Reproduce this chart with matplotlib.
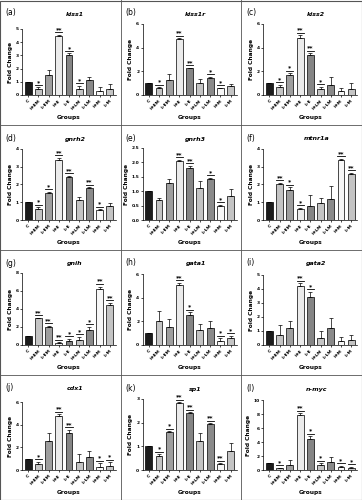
import matplotlib
matplotlib.use('Agg')
import matplotlib.pyplot as plt
from matplotlib.lines import Line2D

# Grupper og gener
groups = ['C', 'H-EM', 'L-EM', 'H-E', 'L-E', 'H-LM', 'L-LM', 'H-M', 'L-M']
genes = ['kiss1', 'kiss1r', 'kiss2', 'gnrh2', 'gnrh3', 'mtnr1a',
         'gnih', 'gata1', 'gata2', 'cdx1', 'sp1', 'n-myc']
letters = ['a', 'b', 'c', 'd', 'e', 'f', 'g', 'h', 'i', 'j', 'k', 'l']

fold_change = [
    [1.0, 0.42, 1.52, 4.50, 3.00, 0.45, 1.15, 0.30, 0.45],
    [1.0, 0.55, 1.30, 4.70, 2.25, 1.00, 1.45, 0.55, 0.80],
    [1.0, 0.65, 1.70, 4.85, 3.40, 0.50, 0.85, 0.30, 0.50],
    [1.0, 0.60, 1.50, 3.40, 2.45, 1.15, 1.80, 0.55, 0.78],
    [1.0, 0.68, 1.28, 2.05, 1.80, 1.10, 1.42, 0.47, 0.82],
    [1.0, 2.05, 1.70, 0.60, 0.78, 0.97, 1.20, 3.40, 2.60],
    [1.0, 2.95, 2.05, 0.25, 0.45, 0.60, 1.65, 6.25, 4.40],
    [1.0, 2.05, 1.55, 5.10, 2.50, 1.30, 1.40, 0.35, 0.55],
    [1.0, 0.75, 1.25, 4.20, 3.45, 0.52, 1.20, 0.27, 0.33],
    [1.0, 0.50, 2.60, 4.80, 3.30, 0.75, 1.15, 0.30, 0.35],
    [1.0, 0.60, 1.60, 2.82, 2.40, 1.22, 1.93, 0.25, 0.82],
    [1.0, 0.25, 0.75, 7.85, 4.50, 0.70, 1.15, 0.40, 0.30],
]

errors = [
    [0.0, 0.15, 0.40, 0.08, 0.15, 0.25, 0.25, 0.30, 0.35],
    [0.0, 0.10, 0.50, 0.08, 0.06, 0.35, 0.08, 0.05, 0.15],
    [0.0, 0.20, 0.15, 0.20, 0.15, 0.20, 0.65, 0.30, 0.55],
    [0.0, 0.12, 0.10, 0.10, 0.05, 0.17, 0.05, 0.05, 0.15],
    [0.0, 0.10, 0.15, 0.04, 0.08, 0.25, 0.04, 0.06, 0.27],
    [0.0, 0.04, 0.15, 0.08, 0.62, 0.25, 0.70, 0.04, 0.07],
    [0.0, 0.10, 0.10, 0.05, 0.25, 0.30, 0.40, 0.25, 0.30],
    [0.0, 0.80, 0.65, 0.15, 0.25, 0.45, 0.60, 0.20, 0.25],
    [0.0, 0.65, 0.50, 0.20, 0.35, 0.50, 0.75, 0.30, 0.38],
    [0.0, 0.25, 0.70, 0.12, 0.25, 0.65, 0.50, 0.30, 0.35],
    [0.0, 0.06, 0.04, 0.04, 0.05, 0.35, 0.04, 0.03, 0.33],
    [0.0, 0.10, 0.75, 0.30, 0.30, 0.30, 0.75, 0.20, 0.20],
]

signif = [
    ['', '*', '', '**', '*', '*', '', '', ''],
    ['', '*', '', '**', '**', '', '*', '*', ''],
    ['', '*', '*', '**', '**', '*', '', '', ''],
    ['', '*', '*', '**', '**', '', '**', '*', ''],
    ['', '', '', '**', '**', '', '*', '*', ''],
    ['', '**', '*', '*', '', '', '', '**', '**'],
    ['', '**', '**', '**', '*', '*', '*', '**', '**'],
    ['', '', '', '**', '*', '', '', '*', '*'],
    ['', '', '', '**', '*', '', '', '', ''],
    ['', '*', '', '**', '**', '', '', '*', '*'],
    ['', '*', '*', '**', '**', '', '**', '**', ''],
    ['', '*', '', '**', '*', '*', '', '*', '*'],
]

y_max = [5, 6, 6, 4, 2.5, 4, 8, 6, 5, 6, 3, 10]
y_step = [1, 2, 2, 1, 0.5, 1, 2, 2, 1, 2, 1, 2]

bar_colors = ['#1c1c1c', '#c4c4c4', '#9e9e9e', '#ebebeb', '#858585',
              '#c4c4c4', '#8a8a8a', '#f7f7f7', '#c4c4c4']

W, H = 362, 500
fig = plt.figure(figsize=(W / 100, H / 100), dpi=100)
pw, ph = W / 3, H / 4
top_off = [29, 24, 24, 24, 23, 24, 23, 24, 25, 27, 24, 25]

for k in range(12):
    row, col = k // 3, k % 3
    px, py = col * pw, row * ph
    left, right, top, bottom = px + 22, px + 116, py + top_off[k], py + 95
    ax = fig.add_axes([left / W, 1 - bottom / H, (right - left) / W, (bottom - top) / H])

    x = range(len(groups))
    ax.bar(x, fold_change[k], width=0.68, color=bar_colors,
           edgecolor='black', linewidth=0.5, zorder=2)
    ax.errorbar(x, fold_change[k], yerr=[[0] * 9, errors[k]], fmt='none',
                ecolor='black', elinewidth=0.5, capsize=1.2, capthick=0.5, zorder=3)

    span = y_max[k]
    for i in x:
        if signif[k][i]:
            ytop = fold_change[k][i] + errors[k][i] + span * 0.035
            ax.plot([i - 0.35, i + 0.35], [ytop, ytop], color='black', lw=0.6)
            ax.text(i, ytop + span * 0.005, signif[k][i], ha='center', va='bottom',
                    fontsize=4.5, fontweight='bold')

    ax.set_xlim(-0.6, 8.6)
    ax.set_ylim(0, y_max[k])
    ticks = []
    t = 0.0
    while t <= y_max[k] + 1e-9:
        ticks.append(t)
        t += y_step[k]
    ax.set_yticks(ticks)
    if y_step[k] < 1:
        ax.set_yticklabels([f'{v:.1f}' for v in ticks])
    else:
        ax.set_yticklabels([f'{v:.0f}' for v in ticks])
    ax.set_xticks(list(x))
    ax.set_xticklabels(groups, rotation=45, ha='right', rotation_mode='anchor')
    ax.tick_params(axis='both', labelsize=3.2, length=1.5, width=0.5, pad=1)
    for lbl in ax.get_xticklabels() + ax.get_yticklabels():
        lbl.set_fontweight('bold')
    ax.spines['top'].set_visible(False)
    ax.spines['right'].set_visible(False)
    ax.spines['left'].set_linewidth(0.5)
    ax.spines['bottom'].set_linewidth(0.5)
    ax.set_ylabel('Fold Change', fontsize=4.2, fontweight='bold', labelpad=2)
    ax.set_xlabel('Groups', fontsize=4.2, fontweight='bold', labelpad=3.5)

    fig.text((px + 5) / W, 1 - (py + 13) / H, f'({letters[k]})', fontsize=5.5,
             va='center', ha='left')
    fig.text((px + 75) / W, 1 - (py + 14) / H, genes[k], fontsize=4.5,
             style='italic', fontweight='bold', va='center', ha='center')

# Rammer rundt panelene
for c in range(1, 3):
    fig.add_artist(Line2D([c * pw / W, c * pw / W], [0, 1], color='#555555', lw=0.6))
for r in range(1, 4):
    fig.add_artist(Line2D([0, 1], [1 - r * ph / H, 1 - r * ph / H], color='#555555', lw=0.6))
fig.add_artist(plt.Rectangle((0.001, 0.001), 0.998, 0.998, fill=False,
                             edgecolor='#555555', lw=0.8, transform=fig.transFigure))

fig.savefig('out.png', dpi=100)
